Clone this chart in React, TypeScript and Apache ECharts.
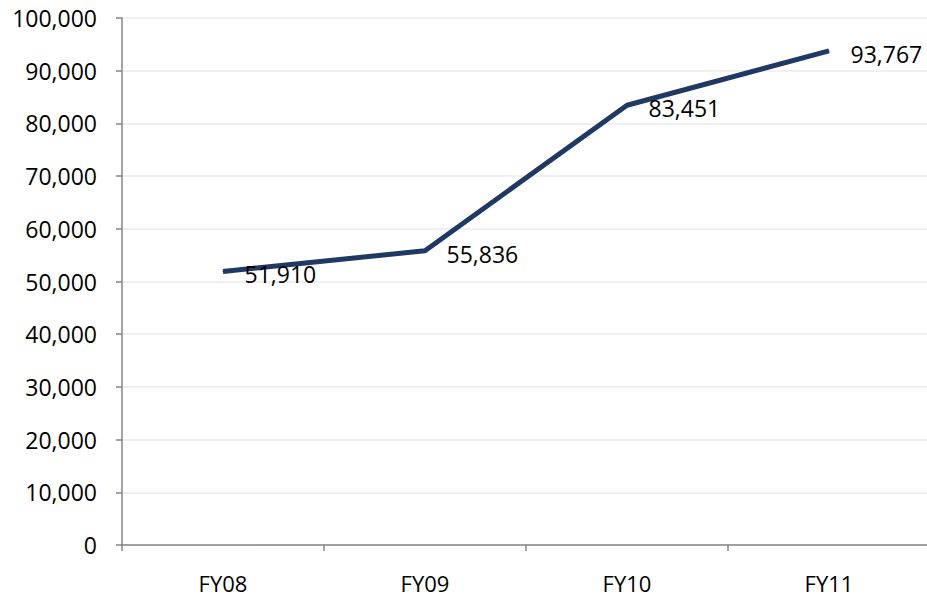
import React, { useEffect, useRef } from "react";
import * as echarts from "echarts";

const categories = ["FY08", "FY09", "FY10", "FY11"];
const values = [51910, 55836, 83451, 93767];

const fmt = (v: number) => v.toLocaleString("en-US");
const FONT = "'Open Sans', 'Liberation Sans', sans-serif";

export default function App() {
  const ref = useRef<HTMLDivElement>(null);
  useEffect(() => {
    const chart = echarts.init(ref.current!, null, { renderer: "svg" });
    chart.setOption({
      animation: false,
      backgroundColor: "#ffffff",
      grid: { left: 122, top: 18, bottom: 56, width: 808, containLabel: false, outerBoundsMode: "none" },
      xAxis: {
        type: "category",
        data: categories,
        boundaryGap: true,
        axisLine: { lineStyle: { color: "#868686", width: 1.5 } },
        axisTick: { show: true, length: 6, lineStyle: { color: "#868686", width: 1.5 } },
        axisLabel: { color: "#000", fontSize: 22, fontFamily: FONT, margin: 27 },
      },
      yAxis: {
        type: "value",
        min: 0,
        max: 100000,
        interval: 10000,
        axisLine: { show: true, lineStyle: { color: "#868686", width: 1.5 } },
        axisTick: { show: true, length: 6, lineStyle: { color: "#868686", width: 1.5 } },
        axisLabel: { color: "#000", fontSize: 23, fontFamily: FONT, margin: 25, formatter: (v: number) => fmt(v) },
        splitLine: { lineStyle: { color: "#ebebeb", width: 1.5 } },
      },
      series: [
        {
          type: "line",
          data: values,
          symbol: "circle",
          symbolSize: 1,
          showSymbol: true,
          lineStyle: { color: "#1f3864", width: 5 },
          itemStyle: { color: "#1f3864" },
          label: {
            show: true,
            position: "right",
            distance: 21,
            offset: [0, 3],
            color: "#000",
            fontSize: 23,
            fontFamily: FONT,
            formatter: (p: any) => fmt(p.value),
          },
        },
      ],
    });
    return () => chart.dispose();
  }, []);
  return <div ref={ref} style={{ width: 927, height: 601, position: "absolute", left: 0, top: 0 }} />;
}
